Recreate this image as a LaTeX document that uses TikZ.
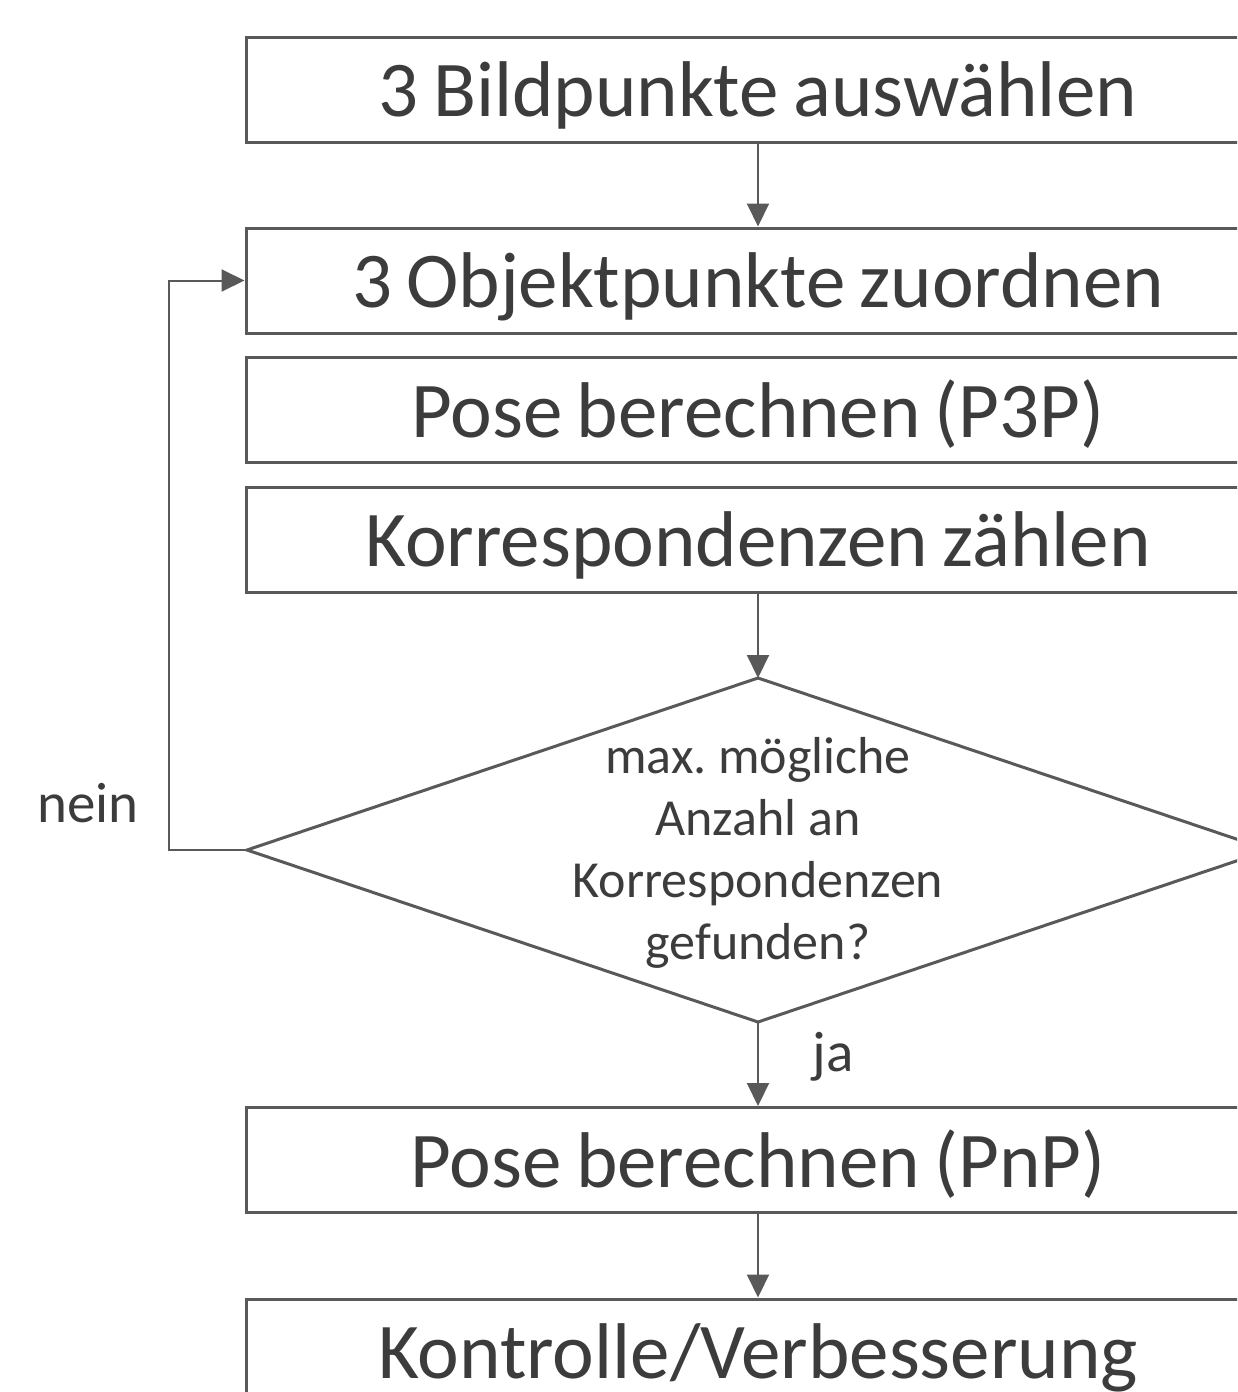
\documentclass[tikz,border=0pt]{standalone}
\usepackage{fontspec}
\setmainfont{Carlito}
\newfontfamily\boxfont[WordSpace=0.8]{Carlito}
\usetikzlibrary{arrows.meta}
\definecolor{lc}{HTML}{595959}
\definecolor{tc}{HTML}{3C3C3C}
\tikzset{
  stepbox/.style={draw=lc, line width=3pt, minimum width=1024pt, minimum height=105pt, inner sep=0pt, text=tc, text height=57pt, text depth=3pt, font=\boxfont\fontsize{79}{90}\selectfont},
  dshape/.style={draw=lc, line width=3pt, line join=miter},
  dtext/.style={inner sep=0pt, text=tc, align=center, font=\fontsize{52}{62}\selectfont},
  lbl/.style={text=tc, inner sep=0pt, font=\fontsize{57}{68}\selectfont},
  conn/.style={draw=lc, line width=2pt, -{Triangle[length=23pt,width=22pt]}}
}
\begin{document}
\begin{tikzpicture}[x=1pt,y=-1pt]
\clip (0,0) rectangle (1237,1392);
\fill[white] (0,0) rectangle (1237,1392);
\node[stepbox] (b1) at (758,89.5) {3 Bildpunkte auswählen};
\node[stepbox] (b2) at (758,280.5) {3 Objektpunkte zuordnen};
\node[stepbox] (b3) at (758,410) {Pose berechnen (P3P)};
\node[stepbox] (b4) at (758,539.5) {Korrespondenzen zählen};
\coordinate (dN) at (758,678);
\coordinate (dE) at (1269,850);
\coordinate (dS) at (758,1022);
\coordinate (dW) at (247,850);
\draw[dshape] (dN) -- (dE) -- (dS) -- (dW) -- cycle;
\node[dtext] (d) at (758,853) {max.\ mögliche\\Anzahl an\\Korrespondenzen\\gefunden?};
\node[stepbox] (b5) at (758,1160) {Pose berechnen (PnP)};
\node[stepbox] (b6) at (758,1351.5) {Kontrolle/Verbesserung};
\node[lbl] (nein) at (88,803) {nein};
\node[lbl] (ja) at (833,1057) {ja};
\draw[conn] (b1) -- (b2);
\draw[conn] (b4) -- (dN);
\draw[conn] (dS) -- (b5);
\draw[conn] (b5) -- (b6);
\draw[conn] (dW) -- ++(-78,0) |- (b2.west);
\end{tikzpicture}
\end{document}
